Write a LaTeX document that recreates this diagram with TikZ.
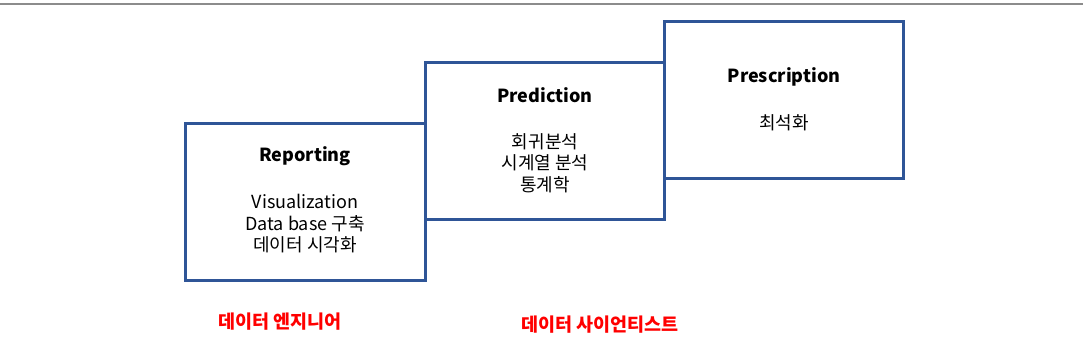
\documentclass[tikz,border=0pt]{standalone}
\usepackage{fontspec}
\setmainfont{Noto Sans CJK KR}
\definecolor{boxblue}{HTML}{2F5597}
\definecolor{rulegray}{HTML}{8C8C8C}
\begin{document}
\begin{tikzpicture}[x=1pt,y=-1pt,
  box/.style={draw=boxblue,line width=3pt,fill=white,rectangle,inner sep=0pt,outer sep=0pt,anchor=north west},
  title/.style={font=\fontsize{18}{20}\selectfont\bfseries,inner sep=0pt},
  body/.style={font=\fontsize{18}{21.5}\selectfont,align=center,inner sep=0pt},
  role/.style={font=\fontsize{18.5}{20}\selectfont\bfseries,text=red,inner sep=0pt}]
\useasboundingbox (0,0) rectangle (1083,362);
\coordinate (ruleL) at (0,4);
\coordinate (ruleR) at (1083,4);
\draw[rulegray,line width=1.5pt] (ruleL) -- (ruleR);
\node[box,minimum width=239.5pt,minimum height=156.5pt] (rep) at (185.5,123.5) {};
\node[box,minimum width=239pt,minimum height=157.5pt] (pred) at (425,62) {};
\node[box,minimum width=239pt,minimum height=157pt] (pres) at (664,21) {};
\node[title] (repT) at (305,156) {Reporting};
\node[body] (repB) at (305,224) {Visualization\\Data base 구축\\데이터 시각화};
\node[title] (predT) at (545,95) {Prediction};
\node[body] (predB) at (545,163) {회귀분석\\시계열 분석\\통계학};
\node[title] (presT) at (784,77) {Prescription};
\node[body] (presB) at (784,123) {최석화};
\node[role] (eng) at (280,322) {데이터 엔지니어};
\node[role] (sci) at (600,325) {데이터 사이언티스트};
\end{tikzpicture}
\end{document}
